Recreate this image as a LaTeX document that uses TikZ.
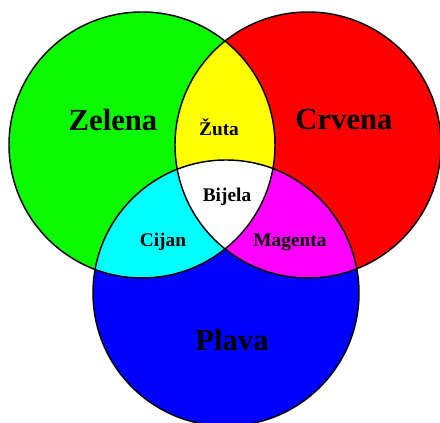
\documentclass[tikz,border=0pt]{standalone}
\usepackage{fontspec}
\setmainfont{Liberation Serif}
\usepackage{xcolor}
\usetikzlibrary{positioning}

\definecolor{zelena}{RGB}{10,250,0}
\definecolor{crvena}{RGB}{255,0,0}
\definecolor{plava}{RGB}{0,0,255}
\definecolor{zuta}{RGB}{255,255,0}
\definecolor{cijan}{RGB}{0,255,255}
\definecolor{magenta}{RGB}{255,0,255}

\begin{document}
\begin{tikzpicture}[x=0.75pt,y=0.75pt,
    rim/.style={draw=black,line width=1.1pt},
    big/.style={font=\fontsize{23}{23}\selectfont\bfseries},
    small/.style={font=\fontsize{14.5}{14.5}\selectfont\bfseries}]
    \useasboundingbox (0,0) rectangle (440,423);
    % circle centres and radius
    \def\rad{133}
    \coordinate (G) at (142,278);
    \coordinate (R) at (308,278);
    \coordinate (B) at (226,130);
    % primary colours
    \fill[zelena] (G) circle (\rad);
    \fill[crvena] (R) circle (\rad);
    \fill[plava]  (B) circle (\rad);
    % pairwise overlaps
    \begin{scope}
      \clip (G) circle (\rad);
      \fill[zuta] (R) circle (\rad);
      \fill[cijan] (B) circle (\rad);
    \end{scope}
    \begin{scope}
      \clip (R) circle (\rad);
      \fill[magenta] (B) circle (\rad);
      % centre overlap
      \clip (G) circle (\rad);
      \fill[white] (B) circle (\rad);
    \end{scope}
    % outlines
    \foreach \c in {G,R,B}
      \draw[rim] (\c) circle (\rad);
    % labels
    \node[big] (zelena) at (113,303) {Zelena};
    \node[big] (crvena) at (344,303) {Crvena};
    \node[big] (plava)  at (232,83) {Plava};
    \node[small] (zuta)   at (219,296) {Žuta};
    \node[small] (bijela) at (227,226) {Bijela};
    \node[small] (cijan)  at (163,181) {Cijan};
    \node[small] (magenta) at (290,181) {Magenta};
\end{tikzpicture}
\end{document}
